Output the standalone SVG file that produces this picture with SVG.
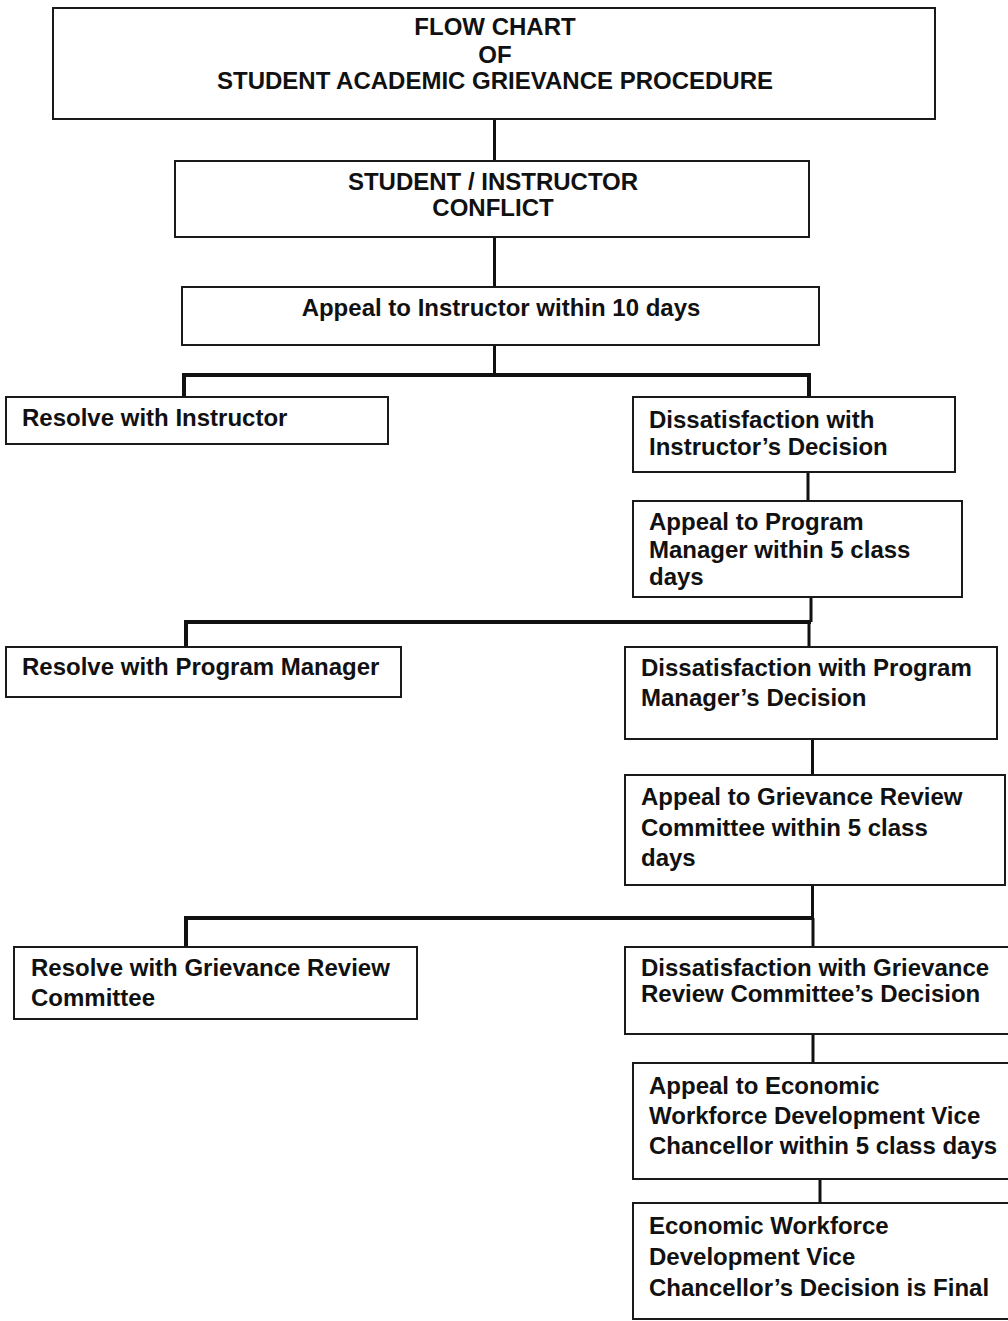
<svg xmlns="http://www.w3.org/2000/svg" width="1008" height="1321" viewBox="0 0 1008 1321">
<style>
.box{fill:#fff;stroke:#1a1a1a;stroke-width:2}
.t{font-family:"Liberation Sans",Arial,sans-serif;font-weight:bold;font-size:24px;fill:#111}
.c{text-anchor:middle}
.ln{stroke:#111;stroke-width:3;fill:none}
.bus{stroke:#111;stroke-width:4;fill:none}
</style>
<rect width="1008" height="1321" fill="#fff"/>
<g id="connectors">
<line class="ln" x1="494.5" y1="119" x2="494.5" y2="161"/>
<line class="ln" x1="494.5" y1="237" x2="494.5" y2="287"/>
<line class="ln" x1="494.5" y1="345" x2="494.5" y2="375"/>
<polyline class="bus" points="184,397 184,375 809,375 809,397"/>
<line class="ln" x1="808" y1="472" x2="808" y2="501"/>
<line class="ln" x1="811" y1="597" x2="811" y2="622"/>
<polyline class="bus" points="186,647 186,622 811,622"/>
<line class="ln" x1="809" y1="622" x2="809" y2="647"/>
<line class="ln" x1="812.5" y1="739" x2="812.5" y2="775"/>
<line class="ln" x1="812.5" y1="885" x2="812.5" y2="918"/>
<polyline class="bus" points="186,947 186,918 813,918"/>
<line class="ln" x1="813" y1="918" x2="813" y2="947"/>
<line class="ln" x1="813" y1="1034" x2="813" y2="1063"/>
<line class="ln" x1="820" y1="1179" x2="820" y2="1203"/>
</g>
<g id="title">
<rect class="box" x="53" y="8" width="882" height="111"/>
<text class="t c" x="495" y="35">FLOW CHART</text>
<text class="t c" x="495" y="63">OF</text>
<text class="t c" x="495" y="89">STUDENT ACADEMIC GRIEVANCE PROCEDURE</text>
</g>
<g id="conflict">
<rect class="box" x="175" y="161" width="634" height="76"/>
<text class="t c" x="493" y="190">STUDENT / INSTRUCTOR</text>
<text class="t c" x="493" y="216">CONFLICT</text>
</g>
<g id="appeal-instructor">
<rect class="box" x="182" y="287" width="637" height="58"/>
<text class="t c" x="501" y="316">Appeal to Instructor within 10 days</text>
</g>
<g id="resolve-instructor">
<rect class="box" x="6" y="397" width="382" height="47"/>
<text class="t" x="22" y="426">Resolve with Instructor</text>
</g>
<g id="dissat-instructor">
<rect class="box" x="633" y="397" width="322" height="75"/>
<text class="t" x="649" y="428">Dissatisfaction with</text>
<text class="t" x="649" y="455">Instructor’s Decision</text>
</g>
<g id="appeal-pm">
<rect class="box" x="633" y="501" width="329" height="96"/>
<text class="t" x="649" y="530">Appeal to Program</text>
<text class="t" x="649" y="558">Manager within 5 class</text>
<text class="t" x="649" y="585">days</text>
</g>
<g id="resolve-pm">
<rect class="box" x="6" y="647" width="395" height="50"/>
<text class="t" x="22" y="675">Resolve with Program Manager</text>
</g>
<g id="dissat-pm">
<rect class="box" x="625" y="647" width="372" height="92"/>
<text class="t" x="641" y="676">Dissatisfaction with Program</text>
<text class="t" x="641" y="706">Manager’s Decision</text>
</g>
<g id="appeal-grc">
<rect class="box" x="625" y="775" width="380" height="110"/>
<text class="t" x="641" y="805">Appeal to Grievance Review</text>
<text class="t" x="641" y="836">Committee within 5 class</text>
<text class="t" x="641" y="866">days</text>
</g>
<g id="resolve-grc">
<rect class="box" x="14" y="947" width="403" height="72"/>
<text class="t" x="31" y="976">Resolve with Grievance Review</text>
<text class="t" x="31" y="1006">Committee</text>
</g>
<g id="dissat-grc">
<rect class="box" x="625" y="947" width="400" height="87"/>
<text class="t" x="641" y="976">Dissatisfaction with Grievance</text>
<text class="t" x="641" y="1002">Review Committee’s Decision</text>
</g>
<g id="appeal-ewd">
<rect class="box" x="633" y="1063" width="400" height="116"/>
<text class="t" x="649" y="1094">Appeal to Economic</text>
<text class="t" x="649" y="1124">Workforce Development Vice</text>
<text class="t" x="649" y="1154">Chancellor  within 5 class days</text>
</g>
<g id="final">
<rect class="box" x="633" y="1203" width="400" height="116"/>
<text class="t" x="649" y="1234">Economic Workforce</text>
<text class="t" x="649" y="1265">Development Vice</text>
<text class="t" x="649" y="1296">Chancellor’s  Decision is Final</text>
</g>
</svg>
